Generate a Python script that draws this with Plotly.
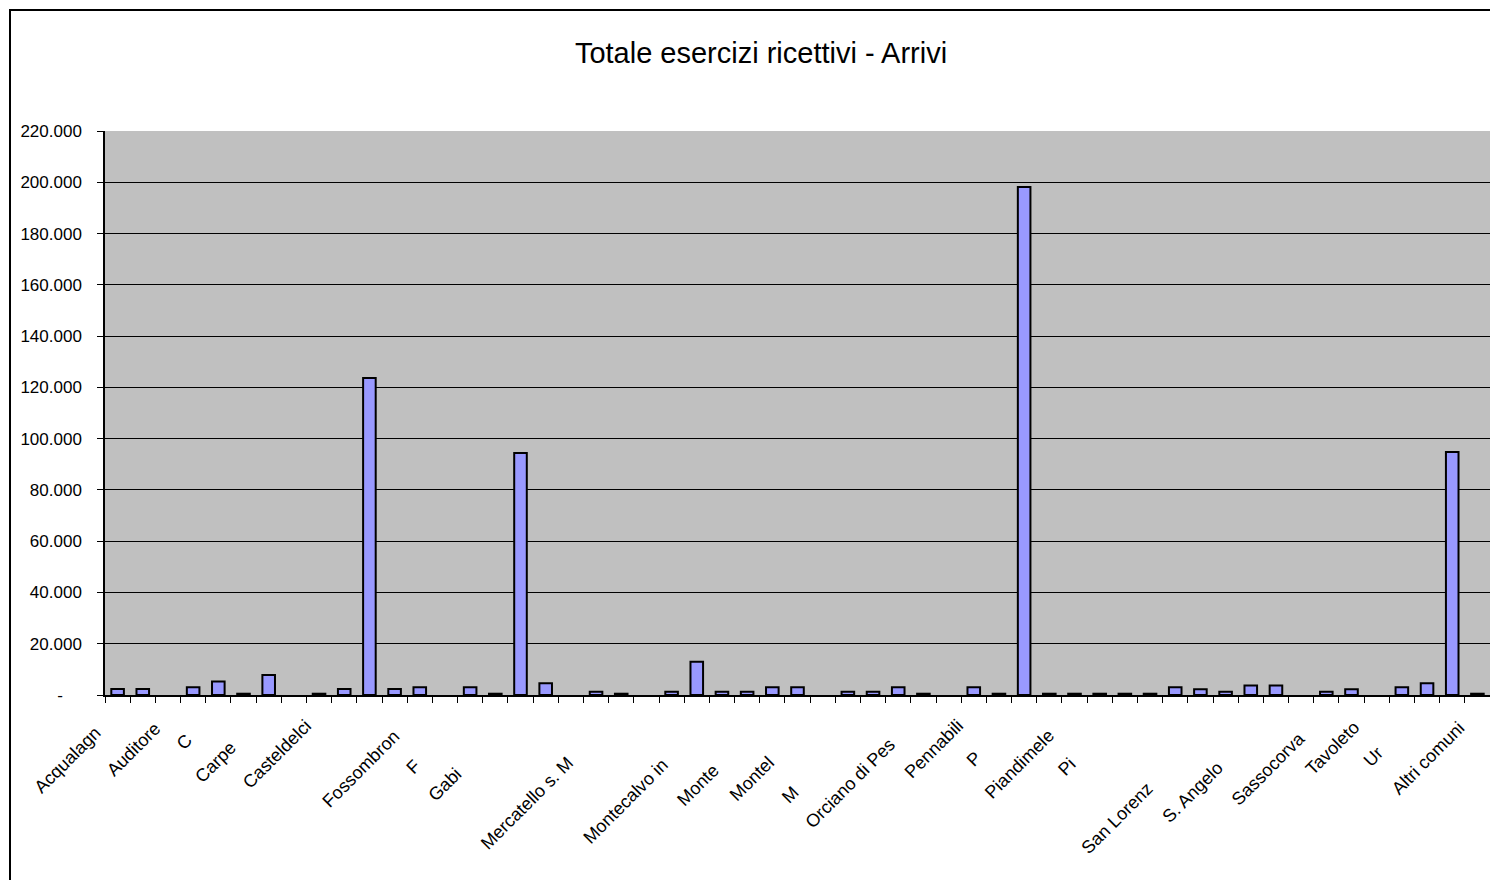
import plotly.graph_objects as go

# Arrivi negli esercizi ricettivi per comune (valori assoluti)
comuni = [
    "Acqualagna", "Apecchio", "Auditore", "Barchi", "Cagli", "Cantiano",
    "Carpegna", "Cartoceto", "Casteldelci", "Colbordolo", "Fano", "Fermignano",
    "Fossombrone", "Fratte Rosa", "Frontino", "Frontone", "Gabicce Mare",
    "Gradara", "Isola del Piano", "Macerata Feltria", "Mercatello sul Metauro",
    "Mercatino Conca", "Mombaroccio", "Mondolfo", "Montecalvo in Foglia",
    "Monte Cerignone", "Monteciccardo", "Montecopiolo", "Montelabbate",
    "Montemaggiore al Metauro", "Monte Porzio", "Novafeltria",
    "Orciano di Pesaro", "Peglio", "Pennabilli", "Pergola", "Pesaro",
    "Petriano", "Piandimeleto", "Piobbico", "San Costanzo",
    "San Giorgio di Pesaro", "San Leo", "San Lorenzo in Campo",
    "Sant'Agata Feltria", "Sant'Angelo in Lizzola", "Sant'Angelo in Vado",
    "Sassocorvaro", "Serrungarina", "Talamello", "Tavoleto", "Tavullia",
    "Urbania", "Urbino", "Altri comuni",
]

arrivi = [
    2300, 2300, None, 3000, 5300, 500,
    7800, None, 500, 2300, 123700, 2300,
    3000, None, 3000, 500, 94400,
    4600, None, 1300, 500,
    None, 1300, 13000, 1300,
    1300, 3000, 3000, None,
    1300, 1300, 3000,
    500, None, 3000, 500, 198200,
    500, 500, 500, 500,
    500, 3000, 2200,
    1300, 3700, 3700,
    None, 1300, 2200, None, 3000,
    4600, 94800, 500,
]

# Etichette dell'asse delle categorie, come compaiono (testo troncato)
etichette_comuni = [
    "Acqualagna", "Auditore", "Cagli", "Carpegna", "Casteldelci",
    "Fossombrone", "Frontino", "Gabicce Mare", "Mercatello sul Metauro",
    "Montecalvo in Foglia", "Monte Cerignone", "Montelabbate", "Monte Porzio",
    "Orciano di Pesaro", "Pennabilli", "Pergola", "Piandimeleto", "Piobbico",
    "San Lorenzo in Campo", "Sant'Angelo in Vado", "Sassocorvaro",
    "Tavoleto", "Urbania", "Altri comuni",
]
etichette_testo = [
    "Acqualagn", "Auditore", "C", "Carpe", "Casteldelci",
    "Fossombron", "F", "Gabi", "Mercatello s. M",
    "Montecalvo in", "Monte", "Montel", "M",
    "Orciano di Pes", "Pennabili", "P", "Piandimele", "Pi",
    "San Lorenz", "S. Angelo", "Sassocorva",
    "Tavoleto", "Ur", "Altri comuni",
]

y_ticks = list(range(0, 220001, 20000))

TITOLO = "Totale esercizi ricettivi - Arrivi"

# --- stile e posizionamento (pixel) ---
W, H = 1490, 880
M_L, M_R, M_T, M_B = 105, 0, 131, 185
FONT = "Liberation Sans, Arial, sans-serif"

# scostamento (dx, dy) del centro di ogni etichetta rispetto alla categoria
etichette_offset = [
    (-50, 65), (-34, 54), (-34, 47), (-53, 67), (-42, 59),
    (-59, 74), (-57, 72), (-76, 90), (-94, 108),
    (-96, 106), (-49, 90), (-71, 84), (-83, 100),
    (-73, 88), (-40, 54), (-25, 64), (-55, 69), (-33, 72),
    (-83, 123), (-83, 97), (-33, 74),
    (-44, 53), (-54, 62), (-49, 63),
]


def fmt_migliaia(v):
    return "-\u00a0\u00a0\u00a0\u00a0" if v == 0 else f"{v:,}".replace(",", ".")


fig = go.Figure(
    go.Bar(
        x=comuni,
        y=arrivi,
        marker=dict(color="#9999FF", line=dict(color="#000000", width=2)),
        hovertemplate="%{x}: %{y:,}<extra></extra>",
    )
)

plot_w = W - M_L - M_R
plot_h = H - M_T - M_B

annotations = []
for nome, testo, (dx, dy) in zip(etichette_comuni, etichette_testo, etichette_offset):
    annotations.append(
        dict(
            x=nome, xref="x", y=0, yref="paper",
            xshift=dx, yshift=-dy,
            text=testo, textangle=-45, showarrow=False,
            xanchor="center", yanchor="middle",
            font=dict(family=FONT, size=18, color="#000000"),
        )
    )

fig.update_layout(
    width=W, height=H,
    margin=dict(l=M_L, r=M_R, t=M_T, b=M_B, pad=0),
    paper_bgcolor="#FFFFFF",
    plot_bgcolor="#C0C0C0",
    separators=",.",
    showlegend=False,
    bargap=0.5,
    title=dict(
        text=TITOLO, x=761 / W, xref="container", xanchor="center",
        y=1 - 53 / H, yref="container", yanchor="middle",
        font=dict(family=FONT, size=29, color="#000000"),
    ),
    xaxis=dict(
        type="category",
        categoryorder="array", categoryarray=comuni,
        range=[-0.5, len(comuni) - 0.5], autorange=False,
        tickson="boundaries",
        ticks="outside", ticklen=6, tickwidth=1, tickcolor="#000000",
        showticklabels=False,
        showline=True, linecolor="#000000", linewidth=1.5,
        showgrid=False, zeroline=False,
    ),
    yaxis=dict(
        range=[0, 220000], autorange=False,
        tickvals=y_ticks,
        ticktext=[fmt_migliaia(v) for v in y_ticks],
        ticks="outside", ticklen=6, tickwidth=1, tickcolor="#000000",
        ticklabelstandoff=12,
        tickfont=dict(family=FONT, size=17, color="#000000"),
        showline=True, linecolor="#000000", linewidth=1.5,
        showgrid=True, gridcolor="#000000", gridwidth=1,
        zeroline=False,
    ),
    annotations=annotations,
    shapes=[
        # cornice esterna del grafico
        dict(
            type="rect", xref="paper", yref="paper", layer="above",
            x0=(10 - M_L) / plot_w, x1=(W + 10 - M_L) / plot_w,
            y0=(M_T + plot_h - (H + 10)) / plot_h, y1=(M_T + plot_h - 10) / plot_h,
            line=dict(color="#000000", width=2), fillcolor="rgba(0,0,0,0)",
        )
    ],
)

fig.write_html("out.html")
